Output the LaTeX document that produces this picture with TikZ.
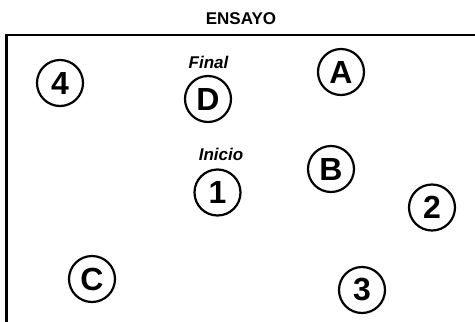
\documentclass[tikz,border=0pt]{standalone}
\usepackage{fontspec}
\setmainfont{Liberation Sans}
\begin{document}
\begin{tikzpicture}[x=1pt,y=-1pt,
  station/.style={circle,draw,line width=2.2pt,minimum size=46pt,inner sep=0pt,
    font=\fontsize{32}{34}\selectfont\bfseries},
  caption/.style={font=\fontsize{17}{20}\selectfont\bfseries\itshape,inner sep=0pt},
  heading/.style={font=\fontsize{17}{20}\selectfont\bfseries,inner sep=0pt},
  frame/.style={line width=2.6pt}]
\useasboundingbox (0,0) rectangle (475,322);

% title
\node[heading] (title) at (241,19) {ENSAYO};

% open frame: top edge and left edge
\coordinate (corner) at (6.5,35);
\coordinate (topend) at (475,35);
\coordinate (leftend) at (6.5,322);
\draw[frame] (topend) -- (corner) -- (leftend);

% stations
\node[station] (n4) at (60,83) {4};
\node[station] (nD) at (208,99) {D};
\node[station] (nA) at (341,72) {A};
\node[station] (nB) at (331,169) {B};
\node[station] (n1) at (217.5,192.5) {1};
\node[station] (n2) at (432,207.5) {2};
\node[station] (nC) at (92,279) {C};
\node[station] (n3) at (362,290) {3};

% captions
\node[caption] (final) at (208.5,62) {Final};
\node[caption] (inicio) at (221,154) {Inicio};
\end{tikzpicture}
\end{document}
